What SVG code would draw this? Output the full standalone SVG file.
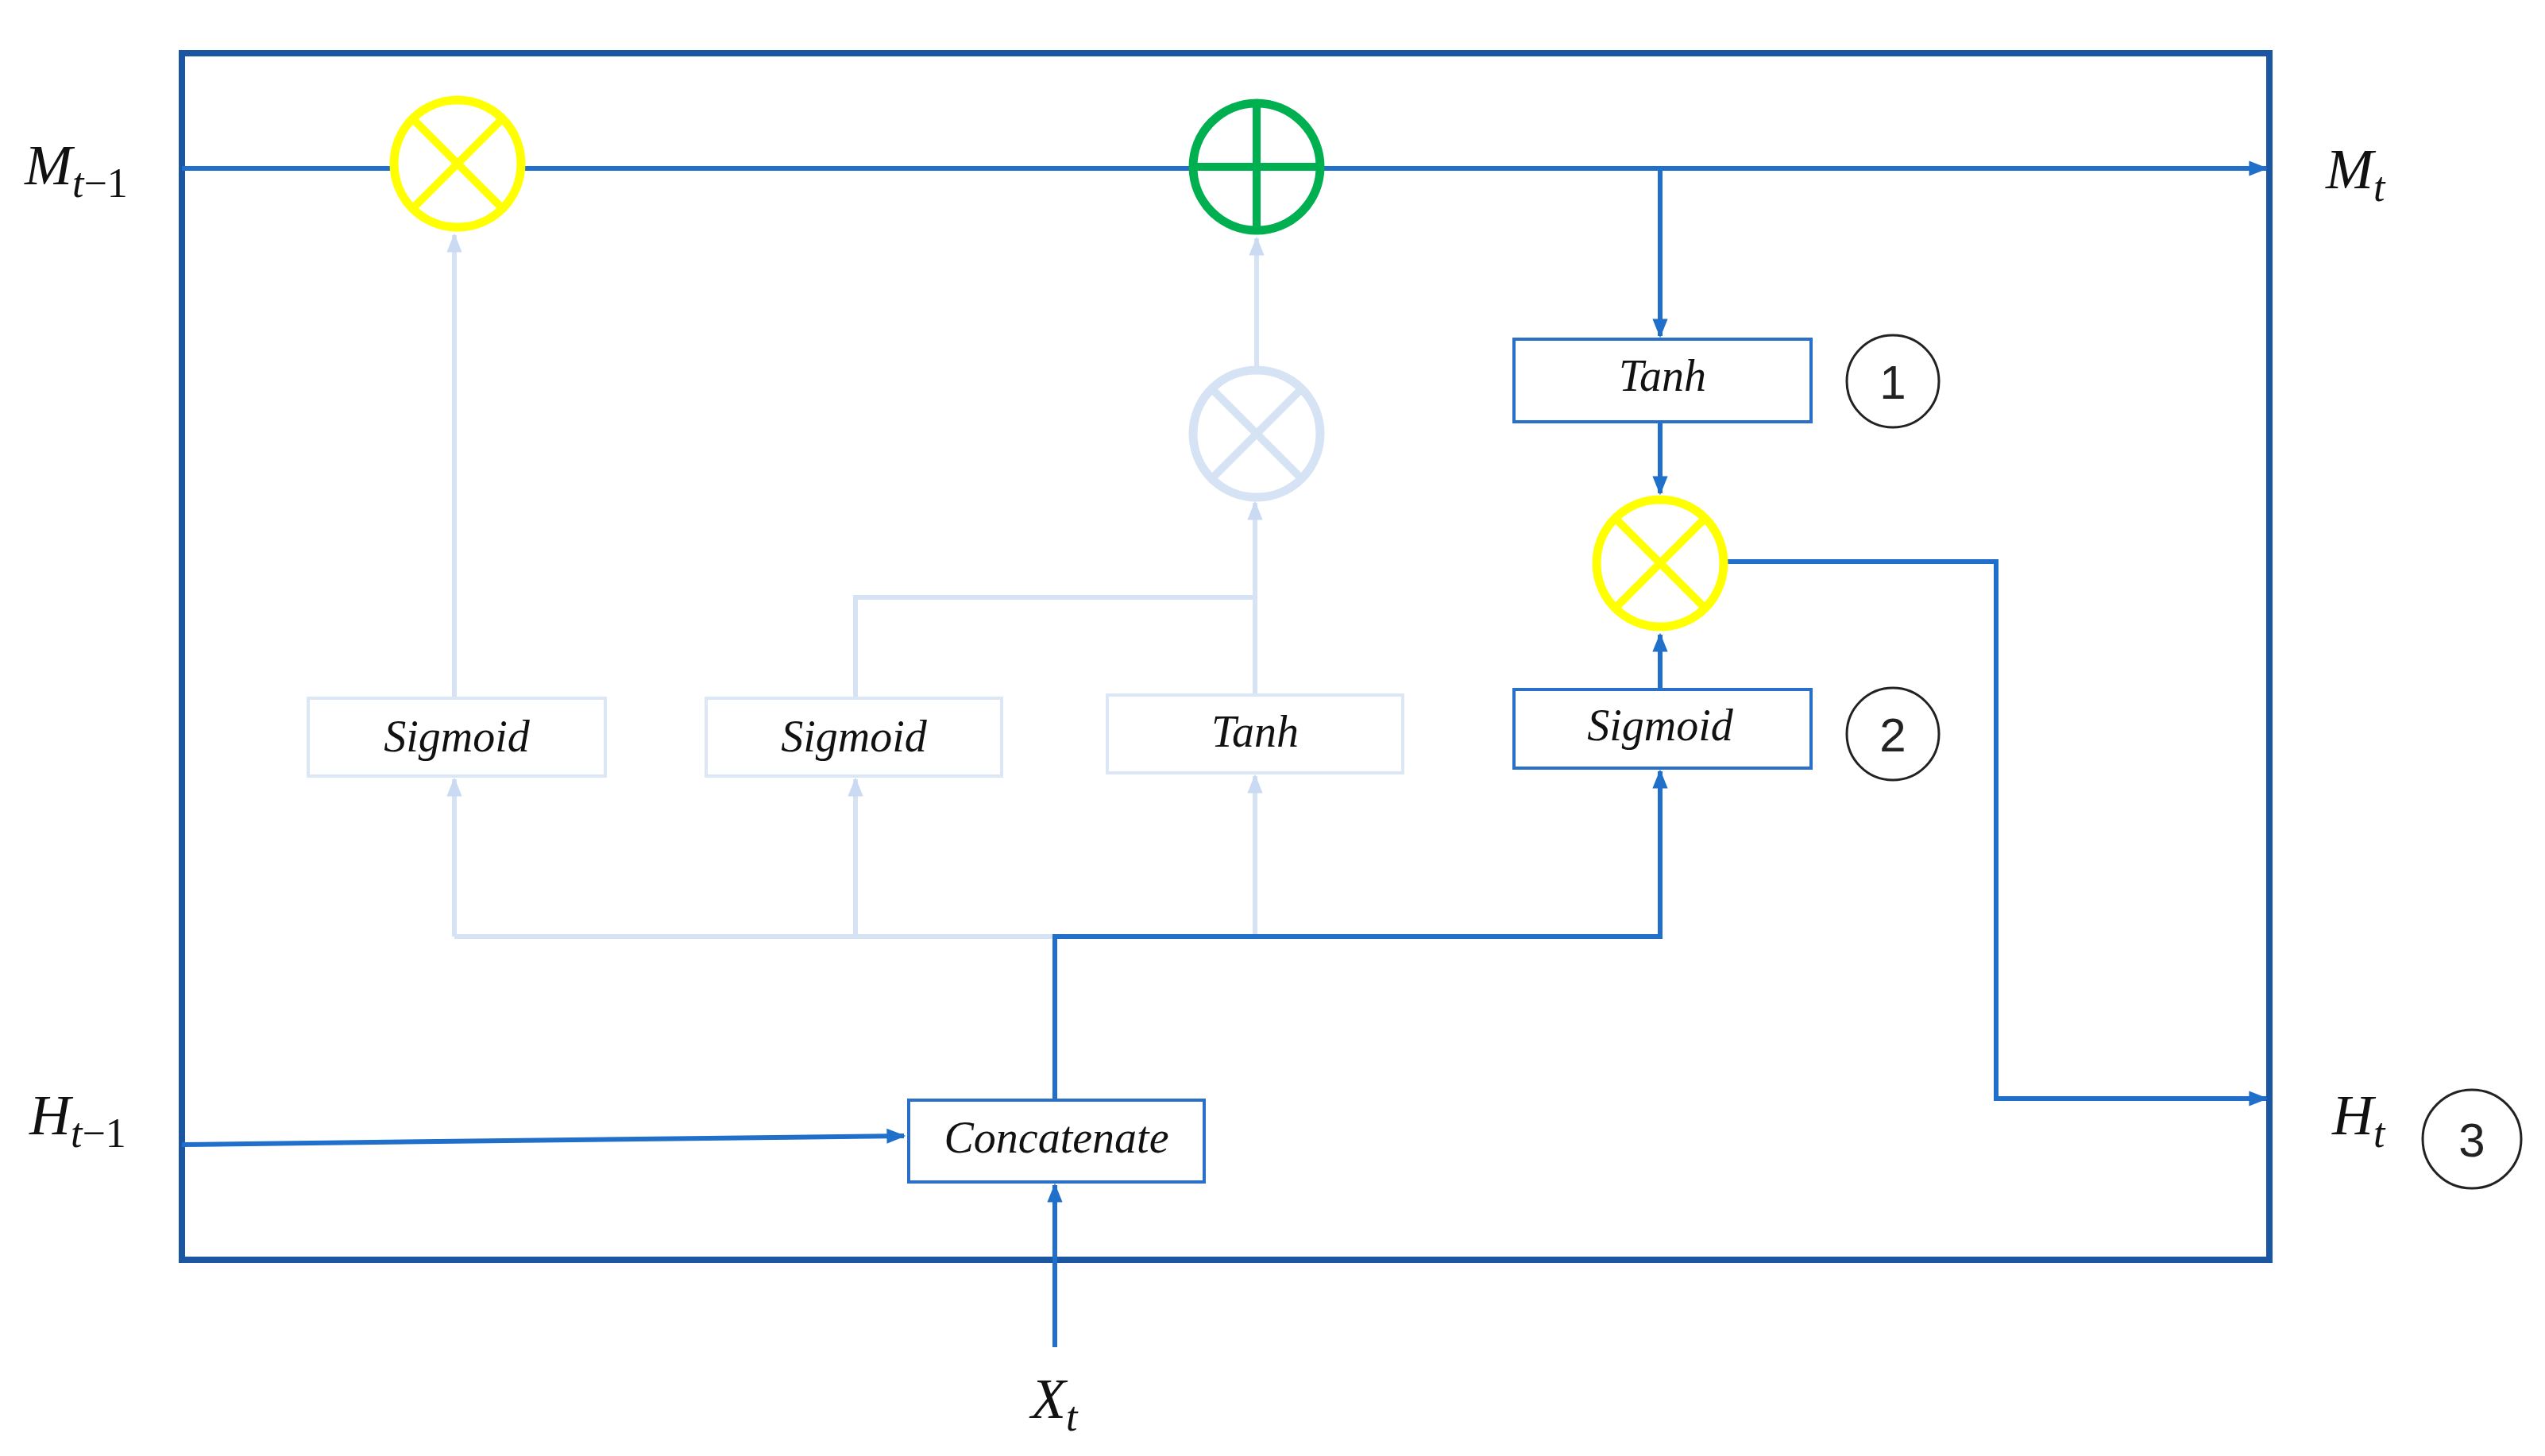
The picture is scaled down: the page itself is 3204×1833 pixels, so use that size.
<svg xmlns="http://www.w3.org/2000/svg" width="3204" height="1833" viewBox="0 0 3204 1833">
<style>
.b{stroke:#1f6fcb;stroke-width:6;fill:none}
.f{stroke:#d6e3f5;stroke-width:6;fill:none}
.box{fill:#fff;stroke:#2a6fc9;stroke-width:4}
.fbox{fill:#fff;stroke:#dbe6f6;stroke-width:4}
.t{font-family:"Liberation Serif",serif;font-style:italic;font-size:56px;fill:#111;text-anchor:middle}
.lab{font-family:"Liberation Serif",serif;font-style:italic;font-size:72px;fill:#111}
.num{font-family:"Liberation Sans",sans-serif;font-size:60px;fill:#222;text-anchor:middle}
.c{fill:none;stroke:#222;stroke-width:3}
</style>
<defs>
<marker id="a" viewBox="0 0 10 10" refX="9" refY="5" markerWidth="4" markerHeight="4" orient="auto"><path d="M0,1 L10,5 L0,9 Z" fill="#1f6fcb"/></marker>
<marker id="af" viewBox="0 0 10 10" refX="9" refY="5" markerWidth="4" markerHeight="4" orient="auto"><path d="M0,1 L10,5 L0,9 Z" fill="#c9daf2"/></marker>
</defs>
<rect x="229" y="67" width="2628" height="1519" fill="none" stroke="#1b56a3" stroke-width="8"/>
<g id="connectors">
<line class="f" x1="572" y1="879" x2="572" y2="296" marker-end="url(#af)"/>
<polyline class="f" points="1077,879 1077,752 1580,752"/>
<line class="f" x1="1580" y1="875" x2="1580" y2="633" marker-end="url(#af)"/>
<line class="f" x1="1582" y1="462" x2="1582" y2="300" marker-end="url(#af)"/>
<polyline class="f" points="572,1179 1328,1179"/>
<line class="f" x1="572" y1="1179" x2="572" y2="981" marker-end="url(#af)"/>
<line class="f" x1="1077" y1="1179" x2="1077" y2="981" marker-end="url(#af)"/>
<line class="f" x1="1580" y1="1179" x2="1580" y2="977" marker-end="url(#af)"/>
<line class="b" x1="229" y1="212" x2="2853" y2="212" marker-end="url(#a)"/>
<line class="b" x1="2090" y1="212" x2="2090" y2="423" marker-end="url(#a)"/>
<line class="b" x1="2090" y1="531" x2="2090" y2="621" marker-end="url(#a)"/>
<line class="b" x1="2090" y1="868" x2="2090" y2="799" marker-end="url(#a)"/>
<polyline class="b" points="2174,707 2513,707 2513,1383 2853,1383" marker-end="url(#a)"/>
<polyline class="b" points="1328,1385 1328,1179 2090,1179 2090,971" marker-end="url(#a)"/>
<line class="b" x1="229" y1="1441" x2="1138" y2="1430" marker-end="url(#a)"/>
<line class="b" x1="1328" y1="1696" x2="1328" y2="1492" marker-end="url(#a)"/>
</g>
<g id="mul1"><circle cx="576" cy="206" r="80" fill="#fff" stroke="#ffff00" stroke-width="11"/><path d="M519,149 L633,263 M633,149 L519,263" stroke="#ffff00" stroke-width="10"/></g>
<g id="add"><circle cx="1582" cy="210" r="80" fill="#fff" stroke="#00b050" stroke-width="11"/><path d="M1502,210 H1662 M1582,130 V290" stroke="#00b050" stroke-width="10"/></g>
<g id="mulf"><circle cx="1582" cy="546" r="80" fill="#fff" stroke="#d6e3f5" stroke-width="11"/><path d="M1525,489 L1639,603 M1639,489 L1525,603" stroke="#d6e3f5" stroke-width="10"/></g>
<g id="mul2"><circle cx="2090" cy="709" r="80" fill="#fff" stroke="#ffff00" stroke-width="11"/><path d="M2033,652 L2147,766 M2147,652 L2033,766" stroke="#ffff00" stroke-width="10"/></g>
<g id="sig1"><rect class="fbox" x="388" y="879" width="374" height="98"/><text class="t" x="575" y="946">Sigmoid</text></g>
<g id="sig2"><rect class="fbox" x="889" y="879" width="372" height="98"/><text class="t" x="1075" y="946">Sigmoid</text></g>
<g id="tanhf"><rect class="fbox" x="1394" y="875" width="372" height="98"/><text class="t" x="1580" y="940">Tanh</text></g>
<g id="tanh"><rect class="box" x="1906" y="427" width="374" height="104"/><text class="t" x="2093" y="492">Tanh</text></g>
<g id="sig3"><rect class="box" x="1906" y="868" width="374" height="99"/><text class="t" x="2090" y="932">Sigmoid</text></g>
<g id="concat"><rect class="box" x="1144" y="1385" width="372" height="103"/><text class="t" x="1330" y="1451">Concatenate</text></g>
<g id="n1"><circle class="c" cx="2383" cy="480" r="58"/><text class="num" x="2383" y="502">1</text></g>
<g id="n2"><circle class="c" cx="2383" cy="924" r="58"/><text class="num" x="2383" y="946">2</text></g>
<g id="n3"><circle class="c" cx="3112" cy="1434" r="62"/><text class="num" x="3112" y="1456">3</text></g>
<text class="lab" x="31" y="232">M<tspan font-size="52" dy="16">t</tspan><tspan font-size="52" font-style="normal">−1</tspan></text>
<text class="lab" x="2928" y="237">M<tspan font-size="52" dy="16">t</tspan></text>
<text class="lab" x="37" y="1428">H<tspan font-size="52" dy="16">t</tspan><tspan font-size="52" font-style="normal">−1</tspan></text>
<text class="lab" x="2936" y="1428">H<tspan font-size="52" dy="16">t</tspan></text>
<text class="lab" x="1298" y="1785">X<tspan font-size="52" dy="16">t</tspan></text>
</svg>
